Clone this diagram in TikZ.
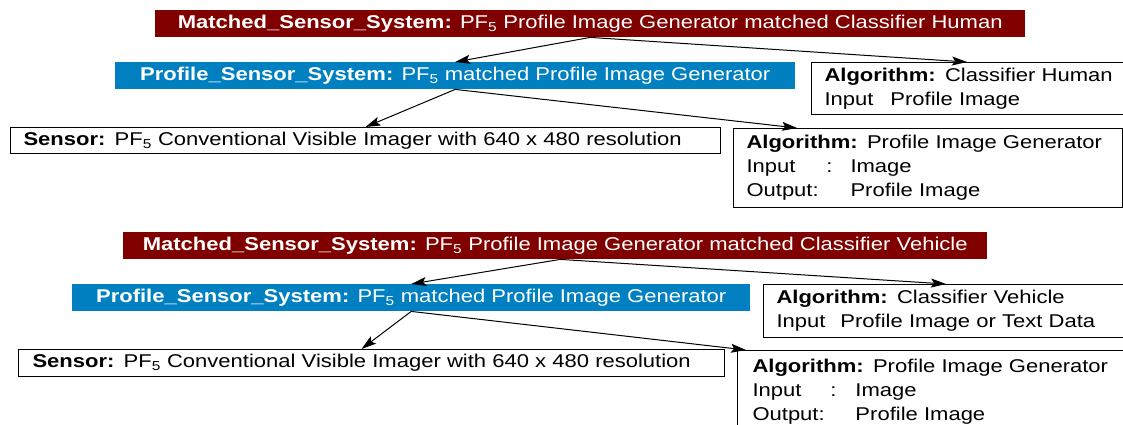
\documentclass[tikz,border=0pt]{standalone}
\usepackage{fontspec}
\setmainfont{Liberation Sans}[FakeStretch=1.19]
\usetikzlibrary{arrows.meta}
\definecolor{mred}{HTML}{800000}
\definecolor{pblue}{HTML}{0080C0}
\newcommand{\fs}{\fontsize{18.5}{24}\selectfont}
\tikzset{
  sysbox/.style={anchor=north west, fill=#1, text=white, inner sep=0pt, align=center, font=\fs},
  infobox/.style={anchor=north west, draw=black, line width=1pt, inner xsep=13pt, inner ysep=0pt, align=left, font=\fs},
  conn/.style={-{Stealth[length=15pt,width=9pt,inset=3pt]}, line width=1pt}
}
\begin{document}
\begin{tikzpicture}[x=1pt,y=-1pt]
\useasboundingbox (0,0) rectangle (1123,425);
\clip (0,0) rectangle (1123,425);
% ---------- top diagram ----------
\node[sysbox=mred, minimum width=870pt, minimum height=27pt] (m1) at (155,10)
  {\textbf{Matched\_Sensor\_System:} PF\textsubscript{5} Profile Image Generator matched Classifier Human};
\node[sysbox=pblue, minimum width=680pt, minimum height=27pt] (p1) at (115,62)
  {\textbf{Profile\_Sensor\_System:} PF\textsubscript{5} matched Profile Image Generator};
\node[infobox, text width=300pt, minimum height=52pt] (a1) at (811,62)
  {\textbf{Algorithm:} Classifier Human\\Input\hspace{17pt}Profile Image};
\node[infobox, text width=684pt, minimum width=710pt, minimum height=26pt] (s1) at (10,127)
  {\textbf{Sensor:} PF\textsubscript{5} Conventional Visible Imager with 640 x 480 resolution};
\node[infobox, text width=363pt, minimum width=389pt, minimum height=79pt] (g1) at (733,128)
  {\textbf{Algorithm:} Profile Image Generator\\\makebox[80pt][l]{Input}\makebox[24pt][l]{:}Image\\\makebox[104pt][l]{Output:}Profile Image};
\draw[conn] (m1.south) -- ([xshift=156pt]a1.north west);
\draw[conn] (m1.south) -- (p1.north);
\draw[conn] (p1.south) -- (s1.north);
\draw[conn] (p1.south) -- ([xshift=64pt]g1.north west);
% ---------- bottom diagram ----------
\node[sysbox=mred, minimum width=864pt, minimum height=27pt] (m2) at (123,232)
  {\textbf{Matched\_Sensor\_System:} PF\textsubscript{5} Profile Image Generator matched Classifier Vehicle};
\node[sysbox=pblue, minimum width=678pt, minimum height=27pt] (p2) at (72,284)
  {\textbf{Profile\_Sensor\_System:} PF\textsubscript{5} matched Profile Image Generator};
\node[infobox, text width=340pt, minimum width=366pt, minimum height=53pt] (a2) at (763,284)
  {\textbf{Algorithm:} Classifier Vehicle\\Input\hspace{15pt}Profile Image or Text Data};
\node[infobox, inner xsep=14pt, text width=678pt, minimum width=706pt, minimum height=27pt] (s2) at (18,349)
  {\textbf{Sensor:} PF\textsubscript{5} Conventional Visible Imager with 640 x 480 resolution};
\node[infobox, inner xsep=15pt, text width=370pt, minimum width=400pt, minimum height=82pt] (g2) at (737,350)
  {\textbf{Algorithm:} Profile Image Generator\\\makebox[78pt][l]{Input}\makebox[25pt][l]{:}Image\\\makebox[103pt][l]{Output:}Profile Image};
\draw[conn] ([xshift=5pt]m2.south) -- (p2.north);
\draw[conn] ([xshift=5pt]m2.south) -- ([xshift=183pt]a2.north west);
\draw[conn] (p2.south) -- ([xshift=-10pt]s2.north);
\draw[conn] (p2.south) -- ([xshift=9pt]g2.north west);
\end{tikzpicture}
\end{document}
